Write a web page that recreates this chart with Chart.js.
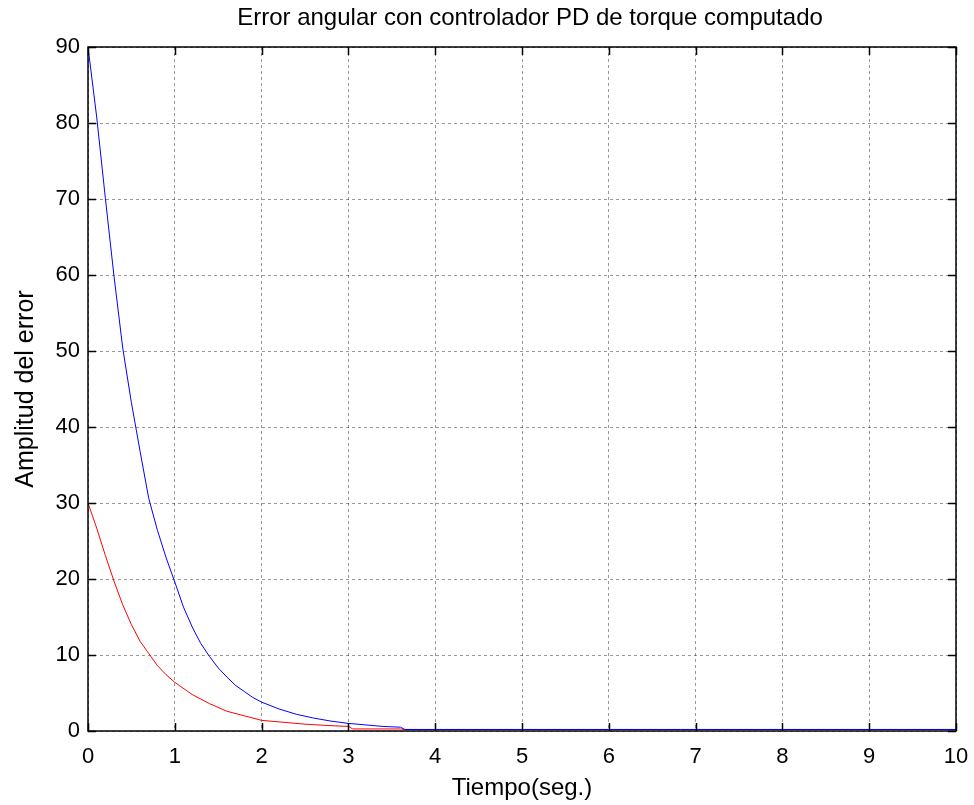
<!DOCTYPE html>
<html>
<head>
<meta charset="utf-8">
<script src="https://cdn.jsdelivr.net/npm/chart.js@4/dist/chart.umd.min.js"></script>
<style>
  html, body { margin: 0; padding: 0; background: #fff; }
  #wrap { width: 974px; height: 805px; }
</style>
</head>
<body>
<div id="wrap"><canvas id="errorChart" width="974" height="805"></canvas></div>
<script>
// Error angular
const titleText = "Error angular con controlador PD de torque computado";
const xTitle = "Tiempo(seg.)";
const yTitle = "Amplitud del error";

// blue curve
const blueTime = [0, 0.1, 0.2, 0.3, 0.4, 0.5, 0.6, 0.7, 0.8, 0.9, 1.0, 1.1, 1.2, 1.3, 1.4, 1.5, 1.6, 1.7, 1.8, 1.9, 2.0, 2.2, 2.4, 2.6, 2.8, 3.0, 3.2, 3.4, 3.6, 3.65, 10];
const blueError = [90, 80.8, 70.1, 59.8, 50.4, 43.2, 36.8, 30.6, 26.4, 22.8, 19.6, 16.3, 13.7, 11.5, 9.8, 8.3, 7.1, 6.0, 5.2, 4.4, 3.8, 2.9, 2.2, 1.7, 1.3, 1.0, 0.8, 0.6, 0.5, 0.2, 0.2];

// red curve
const redTime = [0, 0.1, 0.2, 0.3, 0.4, 0.5, 0.6, 0.7, 0.8, 0.9, 1.0, 1.2, 1.4, 1.6, 1.8, 2.0, 2.2, 2.5, 2.8, 3.0, 3.05, 3.6, 3.65, 10];
const redError = [30, 26.7, 23.1, 19.7, 16.6, 14.0, 11.8, 10.2, 8.6, 7.4, 6.4, 4.8, 3.6, 2.6, 2.0, 1.4, 1.2, 0.9, 0.7, 0.6, 0.27, 0.27, 0.2, 0.2];

const xTicks = [0, 1, 2, 3, 4, 5, 6, 7, 8, 9, 10];
const yTicks = [0, 10, 20, 30, 40, 50, 60, 70, 80, 90];

const FONT = "'Liberation Sans', Arial, Helvetica, sans-serif";

function toPoints(xs, ys) {
  return xs.map((x, i) => ({ x: x, y: ys[i] }));
}

// box, inward tick marks and title centered over the axes (matlab style)
const matlabFrame = {
  id: "matlabFrame",
  afterDraw(chart) {
    const { ctx, chartArea: a, scales } = chart;
    const len = 8;
    ctx.save();
    ctx.strokeStyle = "#000";
    ctx.lineWidth = 1.5;
    ctx.strokeRect(a.left, a.top, a.right - a.left, a.bottom - a.top);
    ctx.beginPath();
    xTicks.forEach(v => {
      const px = Math.round(scales.x.getPixelForValue(v)) + 0.5;
      ctx.moveTo(px, a.bottom); ctx.lineTo(px, a.bottom - len);
      ctx.moveTo(px, a.top); ctx.lineTo(px, a.top + len);
    });
    yTicks.forEach(v => {
      const py = Math.round(scales.y.getPixelForValue(v)) + 0.5;
      ctx.moveTo(a.left, py); ctx.lineTo(a.left + len, py);
      ctx.moveTo(a.right, py); ctx.lineTo(a.right - len, py);
    });
    ctx.stroke();

    ctx.fillStyle = "#000";
    ctx.font = "24px " + FONT;
    ctx.textAlign = "center";
    ctx.textBaseline = "middle";
    ctx.fillText(titleText, (a.left + a.right) / 2 + 8, 18);
    ctx.restore();
  }
};

new Chart(document.getElementById("errorChart"), {
  type: "line",
  data: {
    datasets: [
      {
        label: "blue",
        data: toPoints(blueTime, blueError),
        borderColor: "#0000ff",
        borderWidth: 1,
        pointRadius: 0,
        tension: 0
      },
      {
        label: "red",
        data: toPoints(redTime, redError),
        borderColor: "#ff0000",
        borderWidth: 1,
        pointRadius: 0,
        tension: 0
      }
    ]
  },
  options: {
    responsive: false,
    animation: false,
    layout: { padding: { top: 47, right: 18, left: 0, bottom: 0 } },
    scales: {
      x: {
        type: "linear",
        min: 0,
        max: 10,
        afterFit(scale) {
          scale.height = 74;
          // keep the plot box where the reference has it
          scale.paddingLeft = 0;
          scale.paddingRight = 0;
        },
        afterBuildTicks(scale) { scale.ticks = xTicks.map(v => ({ value: v })); },
        ticks: {
          color: "#000",
          font: { family: FONT, size: 22 },
          padding: 13,
          maxRotation: 0
        },
        grid: {
          color: "rgba(0,0,0,0.4)",
          lineWidth: 1,
          drawTicks: false
        },
        border: { display: false, dash: [3, 3] },
        title: {
          display: true,
          text: xTitle,
          color: "#000",
          font: { family: FONT, size: 24 },
          padding: { top: 0, bottom: 2 }
        }
      },
      y: {
        type: "linear",
        min: 0,
        max: 90,
        afterFit(scale) {
          scale.width = 88;
          scale.paddingTop = 0;
          scale.paddingBottom = 0;
        },
        afterBuildTicks(scale) { scale.ticks = yTicks.map(v => ({ value: v })); },
        ticks: {
          color: "#000",
          font: { family: FONT, size: 22 },
          padding: 8
        },
        grid: {
          color: "rgba(0,0,0,0.4)",
          lineWidth: 1,
          drawTicks: false
        },
        border: { display: false, dash: [3, 3] },
        title: {
          display: true,
          text: yTitle,
          color: "#000",
          font: { family: FONT, size: 25 },
          padding: { top: 11, bottom: 0 }
        }
      }
    },
    plugins: {
      legend: { display: false },
      tooltip: { enabled: false },
      title: { display: false }
    }
  },
  plugins: [matlabFrame]
});
</script>
</body>
</html>
